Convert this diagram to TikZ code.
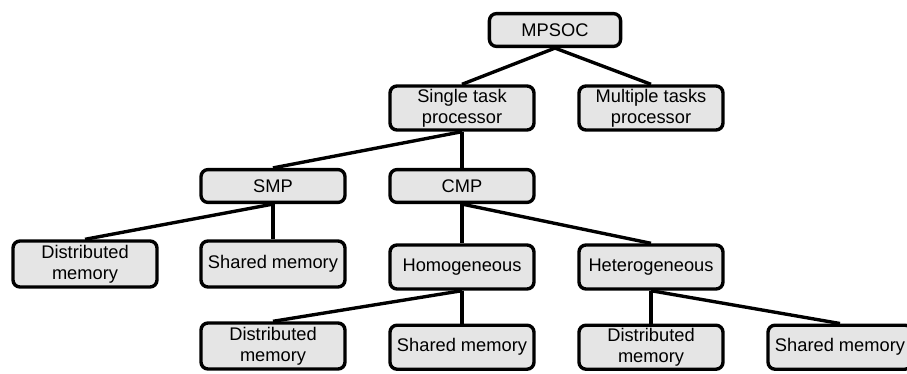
\documentclass[tikz,border=0pt]{standalone}
\usepackage{fontspec}
\setmainfont{Liberation Sans}
\tikzset{
  every picture/.style={
    line width=2.4pt
  },
  box/.style={
    draw, rounded corners=5pt, fill=black!10,
    minimum width=3.6cm, minimum height=1.1cm,
    align=center, inner sep=2pt,
    font=\fontsize{13}{15}\selectfont
  },
  flatbox/.style={
    box, minimum height=0.82cm
  }
}
\begin{document}
\begin{tikzpicture}
      \useasboundingbox (0,0) rectangle (22.675,-9.35);
      \node [flatbox,minimum width=3.28cm] (mpsoc) at (13.875,-0.75) {MPSOC};
      \node [box] (single) at (11.55,-2.7) {Single task\\processor};
      \node [box] (multi) at (16.275,-2.7) {Multiple tasks\\processor};
      \node [flatbox] (smp) at (6.825,-4.65) {SMP};
      \node [flatbox] (cmp) at (11.55,-4.65) {CMP};
      \node [box,minimum height=1.15cm] (smpdist) at (2.125,-6.6) {Distributed\\memory};
      \node [box,minimum height=1.15cm] (smpshared) at (6.825,-6.6) {Shared memory};
      \node [box] (homo) at (11.55,-6.675) {Homogeneous};
      \node [box] (hetero) at (16.275,-6.675) {Heterogeneous};
      \node [box,minimum height=1.15cm] (homodist) at (6.825,-8.65) {Distributed\\memory};
      \node [box] (homoshared) at (11.55,-8.68) {Shared memory};
      \node [box] (heterodist) at (16.275,-8.68) {Distributed\\memory};
      \node [box] (heteroshared) at (21,-8.68) {Shared memory};
      \foreach \a/\b in {mpsoc/single, mpsoc/multi, single/smp, single/cmp,
        smp/smpdist, smp/smpshared, cmp/homo, cmp/hetero,
        homo/homodist, homo/homoshared, hetero/heterodist, hetero/heteroshared}
        \draw (\a.south) -- (\b.north);
    \end{tikzpicture}
\end{document}
